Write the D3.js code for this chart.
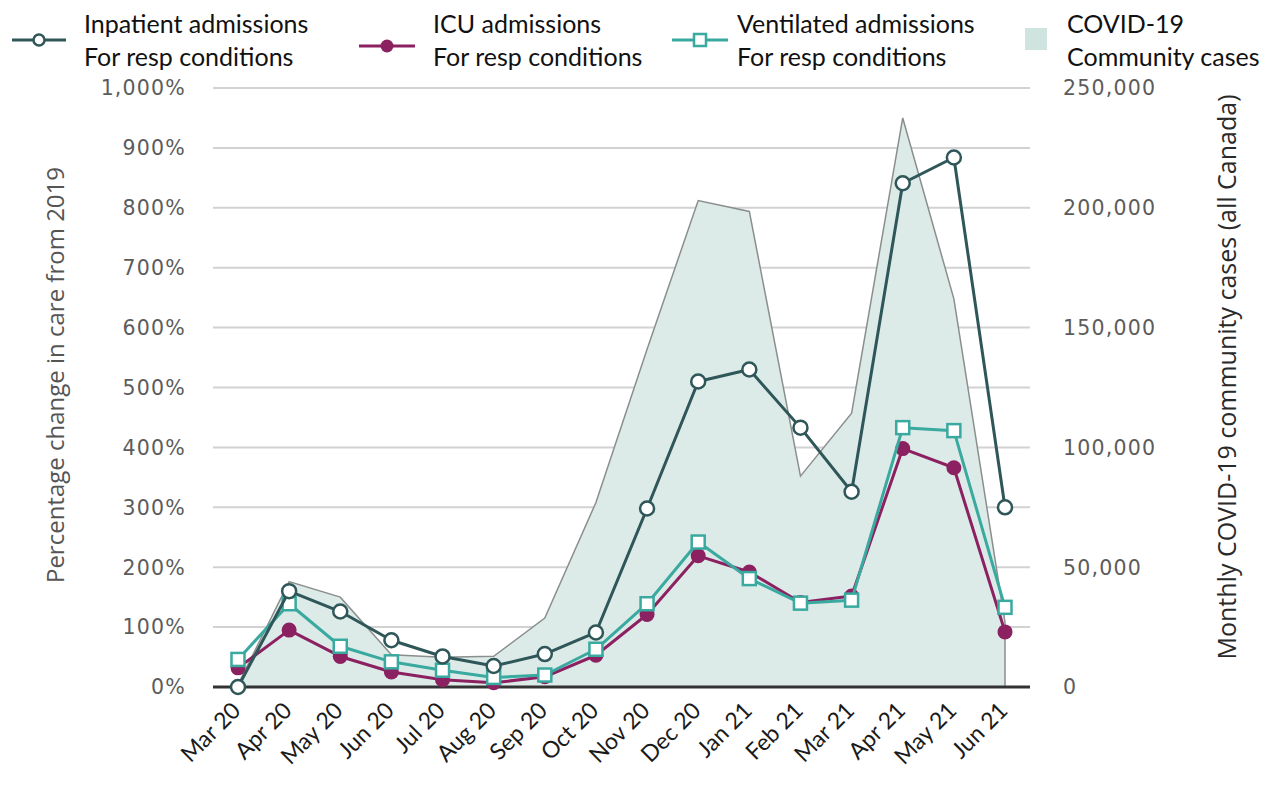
<!DOCTYPE html>
<html>
<head>
<meta charset="utf-8">
<script src="https://d3js.org/d3.v7.min.js"></script>
<style>
  body { margin: 0; background: #fff; }
  svg { display: block; }
  .tick-label { font-family: 'DejaVu Sans', sans-serif; font-size: 20.5px; fill: #5c5c5c; letter-spacing: 1.2px; }
  .x-label { font-family: 'Lato', sans-serif; font-size: 23px; fill: #1a1a1a; }
  .legend-text { font-family: 'Lato', sans-serif; font-size: 25px; fill: #111; }
  .axis-title { font-family: 'Open Sans', sans-serif; }
</style>
</head>
<body>
<div id="chart"></div>
<script>
  /* Data */
  var months = ["Mar 20", "Apr 20", "May 20", "Jun 20", "Jul 20", "Aug 20", "Sep 20", "Oct 20",
                "Nov 20", "Dec 20", "Jan 21", "Feb 21", "Mar 21", "Apr 21", "May 21", "Jun 21"];

  // percentage change from 2019
  var inpatient = [0, 160, 126, 78, 51, 35, 55, 91, 298, 510, 530, 433, 326, 841, 884, 300];
  var icu = [32, 95, 51, 25, 12, 7, 17, 53, 121, 219, 192, 141, 152, 398, 366, 92];
  var ventilated = [46, 139, 68, 42, 28, 16, 20, 63, 139, 242, 181, 140, 145, 433, 428, 133];

  // monthly community cases, all Canada
  var cases = [1000, 44000, 37500, 13500, 12400, 12800, 28800, 77000,
               141000, 203000, 198500, 88000, 114300, 237500, 162000, 27000];

  var leftTicks = [0, 100, 200, 300, 400, 500, 600, 700, 800, 900, 1000];
  var rightTicks = [0, 50000, 100000, 150000, 200000, 250000];

  /* Setup */
  var width = 1263, height = 786;
  var plotLeft = 213, plotRight = 1030;

  var colInpatient = "#2f5658",
      colIcu = "#8c2162",
      colVent = "#3aa99f",
      colArea = "#dcebe8",
      colAreaLine = "#8a8f8e";

  var svg = d3.select("#chart").append("svg")
    .attr("width", width)
    .attr("height", height);

  var x = d3.scalePoint()
    .domain(months)
    .range([238, 1005]);

  var y = d3.scaleLinear()
    .domain([0, 1000])
    .range([687, 88]);

  var y2 = d3.scaleLinear()
    .domain([0, 250000])
    .range([687, 88]);

  /* Gridlines */
  svg.append("g").selectAll("line")
    .data(leftTicks.filter(d => d > 0))
    .join("line")
    .attr("x1", plotLeft).attr("x2", plotRight)
    .attr("y1", d => y(d)).attr("y2", d => y(d))
    .attr("stroke", "#d2d2d2")
    .attr("stroke-width", 2);

  /* Left axis labels */
  var pctFmt = d3.format(",");
  svg.append("g").selectAll("text")
    .data(leftTicks)
    .join("text")
    .attr("class", "tick-label")
    .attr("x", 186)
    .attr("y", d => y(d))
    .attr("dy", "0.36em")
    .attr("text-anchor", "end")
    .text(d => pctFmt(d) + "%");

  /* Right axis labels */
  svg.append("g").selectAll("text")
    .data(rightTicks)
    .join("text")
    .attr("class", "tick-label")
    .attr("x", 1063)
    .attr("y", d => y2(d))
    .attr("dy", "0.36em")
    .attr("text-anchor", "start")
    .text(d => d3.format(",")(d));

  /* Axis titles */
  svg.append("text")
    .attr("class", "axis-title")
    .attr("transform", "translate(64,375) rotate(-90)")
    .attr("text-anchor", "middle")
    .attr("font-size", "24px")
    .attr("fill", "#555")
    .text("Percentage change in care from 2019");

  svg.append("text")
    .attr("class", "axis-title")
    .attr("transform", "translate(1236,377) rotate(-90)")
    .attr("text-anchor", "middle")
    .attr("font-size", "25px")
    .attr("fill", "#2a2a2a")
    .text("Monthly COVID-19 community cases (all Canada)");

  /* Cases area */
  var area = d3.area()
    .x((d, i) => x(months[i]))
    .y0(y2(0))
    .y1(d => y2(d));

  svg.append("path")
    .datum(cases)
    .attr("d", area)
    .attr("fill", colArea)
    .attr("stroke", "none");

  // outline along the top and down the right edge
  svg.append("path")
    .datum(cases.concat([0]))
    .attr("d", d3.line()
      .x((d, i) => x(months[Math.min(i, months.length - 1)]))
      .y(d => y2(d)))
    .attr("fill", "none")
    .attr("stroke", colAreaLine)
    .attr("stroke-width", 1.5);

  /* Zero axis line */
  svg.append("line")
    .attr("x1", plotLeft).attr("x2", plotRight)
    .attr("y1", y(0)).attr("y2", y(0))
    .attr("stroke", "#333")
    .attr("stroke-width", 3);

  /* X labels */
  svg.append("g").selectAll("text")
    .data(months)
    .join("text")
    .attr("class", "x-label")
    .attr("text-anchor", "end")
    .attr("transform", d => "translate(" + (x(d) + 4) + ",712) rotate(-45)")
    .text(d => d);

  /* Series lines */
  var line = d3.line()
    .x((d, i) => x(months[i]))
    .y(d => y(d));

  function drawLine(values, color) {
    svg.append("path")
      .datum(values)
      .attr("d", line)
      .attr("fill", "none")
      .attr("stroke", color)
      .attr("stroke-width", 3)
      .attr("stroke-linejoin", "round");
  }

  // ICU
  drawLine(icu, colIcu);
  svg.append("g").selectAll("circle")
    .data(icu)
    .join("circle")
    .attr("cx", (d, i) => x(months[i]))
    .attr("cy", d => y(d))
    .attr("r", 7.5)
    .attr("fill", colIcu);

  // Ventilated
  drawLine(ventilated, colVent);
  svg.append("g").selectAll("rect")
    .data(ventilated)
    .join("rect")
    .attr("x", (d, i) => x(months[i]) - 6.5)
    .attr("y", d => y(d) - 6.5)
    .attr("width", 13)
    .attr("height", 13)
    .attr("fill", "#fff")
    .attr("stroke", colVent)
    .attr("stroke-width", 2.5);

  // Inpatient
  drawLine(inpatient, colInpatient);
  svg.append("g").selectAll("circle")
    .data(inpatient)
    .join("circle")
    .attr("cx", (d, i) => x(months[i]))
    .attr("cy", d => y(d))
    .attr("r", 7)
    .attr("fill", "#fff")
    .attr("stroke", colInpatient)
    .attr("stroke-width", 2.5);

  /* Legend */
  var legend = svg.append("g");

  function legendText(x0, lines) {
    legend.append("text")
      .attr("class", "legend-text")
      .attr("x", x0)
      .attr("y", 33)
      .text(lines[0]);
    legend.append("text")
      .attr("class", "legend-text")
      .attr("x", x0)
      .attr("y", 66)
      .text(lines[1]);
  }

  // Inpatient
  legend.append("line").attr("x1", 12).attr("x2", 66).attr("y1", 40).attr("y2", 40)
    .attr("stroke", colInpatient).attr("stroke-width", 3);
  legend.append("circle").attr("cx", 39).attr("cy", 40).attr("r", 5.5)
    .attr("fill", "#fff").attr("stroke", colInpatient).attr("stroke-width", 2.5);
  legendText(84, ["Inpatient admissions", "For resp conditions"]);

  // ICU
  legend.append("line").attr("x1", 359).attr("x2", 415).attr("y1", 46).attr("y2", 46)
    .attr("stroke", colIcu).attr("stroke-width", 3);
  legend.append("circle").attr("cx", 387).attr("cy", 46).attr("r", 6.5)
    .attr("fill", colIcu);
  legendText(433, ["ICU admissions", "For resp conditions"]);

  // Ventilated
  legend.append("line").attr("x1", 672).attr("x2", 728).attr("y1", 40).attr("y2", 40)
    .attr("stroke", colVent).attr("stroke-width", 3);
  legend.append("rect").attr("x", 694).attr("y", 34).attr("width", 12).attr("height", 12)
    .attr("fill", "#fff").attr("stroke", colVent).attr("stroke-width", 2.5);
  legendText(737, ["Ventilated admissions", "For resp conditions"]);

  // Cases
  legend.append("rect").attr("x", 1025).attr("y", 28).attr("width", 22).attr("height", 22)
    .attr("fill", "#cfe3df");
  legendText(1067, ["COVID-19", "Community cases"]);
</script>
</body>
</html>
